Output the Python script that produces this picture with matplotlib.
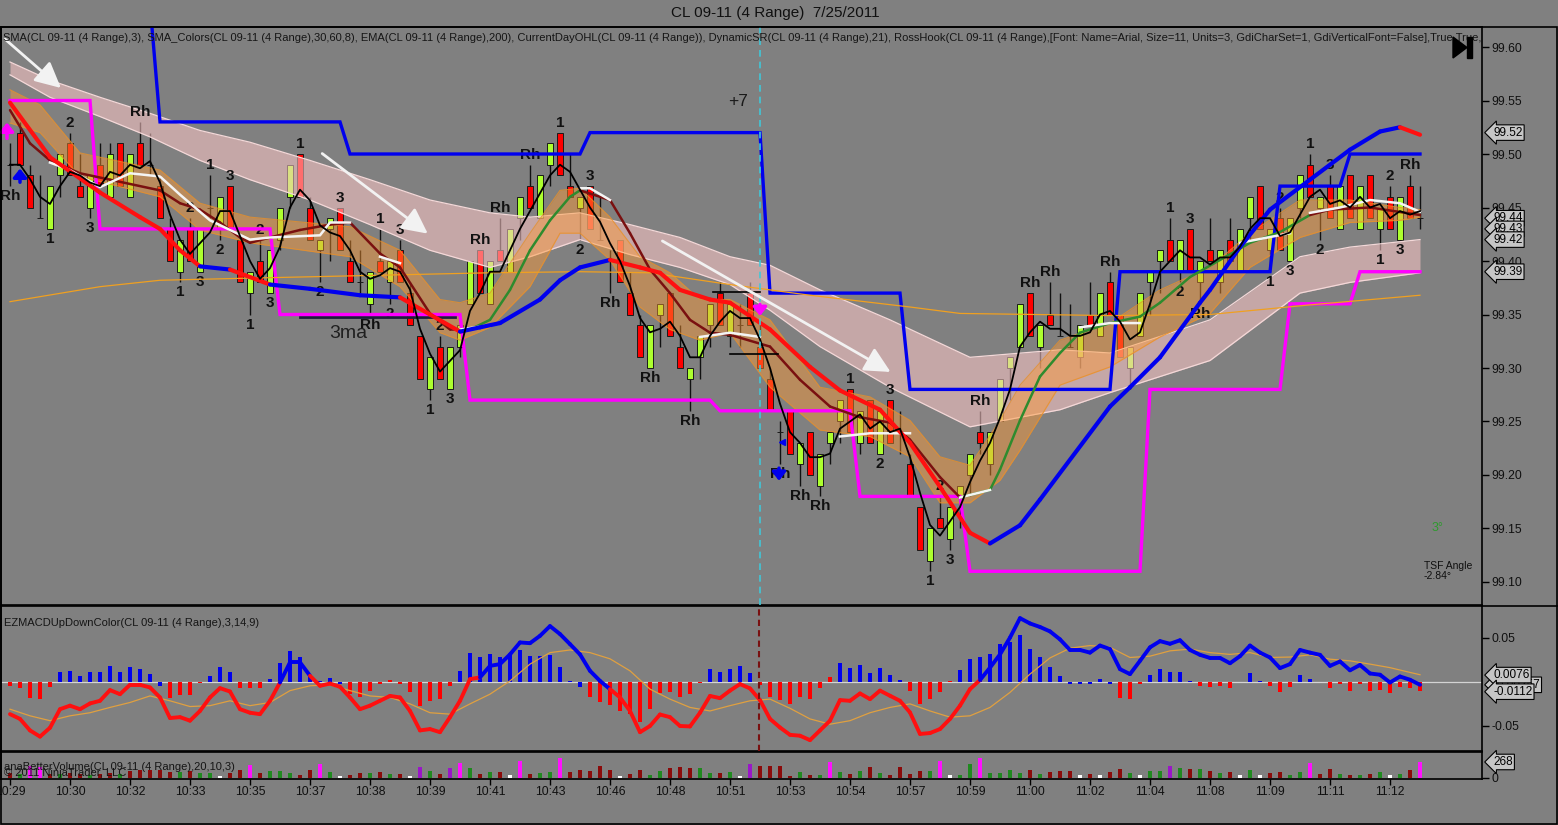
import numpy as np
import pandas as pd
import matplotlib
matplotlib.use('Agg')
import matplotlib.pyplot as plt
from matplotlib.collections import LineCollection
from matplotlib.patches import Polygon, Rectangle
from matplotlib.lines import Line2D

plt.rcParams['font.family'] = ['Liberation Sans', 'DejaVu Sans']

W, H = 1558, 825
BG = '#808080'

# ---------------- price bars (CL 09-11, 4 range) ----------------
opens = [99.49, 99.52, 99.48, 99.44, 99.43, 99.48, 99.51, 99.47, 99.45, 99.49,
         99.46, 99.51, 99.46, 99.51, 99.49, 99.47, 99.43, 99.39, 99.43, 99.39,
         99.45, 99.43, 99.47, 99.42, 99.37, 99.40, 99.37, 99.42, 99.46, 99.50,
         99.45, 99.41, 99.43, 99.45, 99.40, 99.38, 99.36, 99.40, 99.38, 99.41,
         99.37, 99.33, 99.28, 99.32, 99.28, 99.32, 99.36, 99.41, 99.36, 99.41,
         99.39, 99.44, 99.47, 99.44, 99.49, 99.52, 99.47, 99.45, 99.47, 99.42,
         99.40, 99.42, 99.37, 99.34, 99.30, 99.35, 99.37, 99.32, 99.29, 99.31,
         99.34, 99.37, 99.33, 99.34, 99.37, 99.32, 99.29, 99.24, 99.26, 99.21,
         99.24, 99.19, 99.23, 99.25, 99.28, 99.23, 99.27, 99.22, 99.27, 99.24,
         99.21, 99.17, 99.12, 99.16, 99.14, 99.18, 99.20, 99.24, 99.21, 99.25,
         99.30, 99.32, 99.37, 99.32, 99.35, 99.33, 99.32, 99.31, 99.35, 99.33,
         99.38, 99.35, 99.30, 99.33, 99.38, 99.40, 99.42, 99.39, 99.43, 99.38,
         99.41, 99.38, 99.42, 99.39, 99.44, 99.47, 99.41, 99.44, 99.40, 99.45,
         99.49, 99.45, 99.47, 99.43, 99.48, 99.43, 99.48, 99.43, 99.46, 99.42,
         99.47, 99.44]
highs = [99.51, 99.53, 99.49, 99.48, 99.47, 99.50, 99.52, 99.50, 99.48, 99.51,
         99.51, 99.51, 99.50, 99.53, 99.52, 99.48, 99.44, 99.42, 99.44, 99.43,
         99.48, 99.46, 99.47, 99.42, 99.39, 99.42, 99.41, 99.45, 99.49, 99.50,
         99.46, 99.42, 99.44, 99.45, 99.42, 99.41, 99.39, 99.43, 99.40, 99.42,
         99.38, 99.33, 99.31, 99.33, 99.32, 99.35, 99.40, 99.41, 99.40, 99.44,
         99.43, 99.46, 99.49, 99.48, 99.51, 99.52, 99.50, 99.46, 99.47, 99.46,
         99.41, 99.42, 99.39, 99.35, 99.34, 99.36, 99.37, 99.34, 99.30, 99.33,
         99.36, 99.38, 99.36, 99.36, 99.38, 99.34, 99.30, 99.25, 99.26, 99.23,
         99.24, 99.22, 99.24, 99.27, 99.28, 99.26, 99.27, 99.26, 99.27, 99.26,
         99.22, 99.17, 99.15, 99.18, 99.17, 99.19, 99.22, 99.26, 99.24, 99.29,
         99.31, 99.36, 99.37, 99.34, 99.38, 99.37, 99.36, 99.34, 99.38, 99.37,
         99.39, 99.35, 99.32, 99.37, 99.39, 99.41, 99.44, 99.42, 99.43, 99.40,
         99.44, 99.41, 99.44, 99.43, 99.46, 99.47, 99.43, 99.45, 99.44, 99.48,
         99.50, 99.46, 99.48, 99.47, 99.48, 99.47, 99.48, 99.45, 99.47, 99.46,
         99.48, 99.47]
lows = [99.47, 99.49, 99.45, 99.44, 99.43, 99.46, 99.48, 99.46, 99.44, 99.47,
        99.46, 99.47, 99.46, 99.49, 99.48, 99.44, 99.40, 99.38, 99.40, 99.39,
        99.44, 99.42, 99.43, 99.38, 99.35, 99.38, 99.37, 99.41, 99.45, 99.46,
        99.42, 99.38, 99.40, 99.41, 99.38, 99.37, 99.35, 99.39, 99.36, 99.38,
        99.34, 99.29, 99.27, 99.29, 99.28, 99.31, 99.36, 99.37, 99.36, 99.40,
        99.39, 99.42, 99.45, 99.44, 99.47, 99.48, 99.46, 99.42, 99.43, 99.42,
        99.37, 99.38, 99.35, 99.31, 99.30, 99.32, 99.33, 99.30, 99.26, 99.29,
        99.32, 99.34, 99.32, 99.32, 99.34, 99.30, 99.26, 99.21, 99.22, 99.19,
        99.20, 99.18, 99.21, 99.23, 99.24, 99.22, 99.23, 99.22, 99.23, 99.22,
        99.18, 99.13, 99.11, 99.15, 99.13, 99.15, 99.18, 99.22, 99.20, 99.25,
        99.27, 99.32, 99.33, 99.30, 99.34, 99.33, 99.32, 99.30, 99.34, 99.33,
        99.35, 99.31, 99.28, 99.33, 99.35, 99.37, 99.40, 99.38, 99.39, 99.36,
        99.40, 99.37, 99.40, 99.39, 99.42, 99.43, 99.39, 99.41, 99.40, 99.44,
        99.46, 99.42, 99.44, 99.43, 99.44, 99.43, 99.44, 99.41, 99.43, 99.42,
        99.44, 99.43]
closes = [99.49, 99.49, 99.45, 99.44, 99.47, 99.50, 99.48, 99.46, 99.48, 99.47,
          99.50, 99.47, 99.50, 99.49, 99.49, 99.44, 99.40, 99.42, 99.40, 99.43,
          99.45, 99.46, 99.43, 99.38, 99.39, 99.38, 99.41, 99.45, 99.49, 99.46,
          99.42, 99.42, 99.44, 99.41, 99.38, 99.38, 99.39, 99.39, 99.40, 99.38,
          99.34, 99.29, 99.31, 99.29, 99.32, 99.34, 99.40, 99.37, 99.40, 99.40,
          99.43, 99.46, 99.45, 99.48, 99.51, 99.48, 99.46, 99.46, 99.43, 99.42,
          99.40, 99.38, 99.35, 99.31, 99.34, 99.36, 99.33, 99.30, 99.30, 99.33,
          99.36, 99.34, 99.36, 99.34, 99.34, 99.30, 99.26, 99.24, 99.22, 99.23,
          99.20, 99.22, 99.24, 99.27, 99.24, 99.26, 99.23, 99.26, 99.23, 99.24,
          99.18, 99.13, 99.15, 99.15, 99.17, 99.19, 99.22, 99.23, 99.24, 99.29,
          99.31, 99.36, 99.33, 99.34, 99.34, 99.33, 99.32, 99.34, 99.34, 99.37,
          99.35, 99.31, 99.32, 99.37, 99.39, 99.41, 99.40, 99.42, 99.39, 99.40,
          99.40, 99.41, 99.40, 99.43, 99.46, 99.43, 99.43, 99.41, 99.44, 99.48,
          99.46, 99.46, 99.44, 99.47, 99.44, 99.47, 99.44, 99.45, 99.43, 99.46,
          99.44, 99.44]

time_labels = ['10:29', '10:30', '10:32', '10:33', '10:35', '10:37', '10:38', '10:39',
               '10:41', '10:43', '10:46', '10:48', '10:51', '10:53', '10:54', '10:57',
               '10:59', '11:00', '11:02', '11:04', '11:08', '11:09', '11:11', '11:12']

# ---------------- overlay indicators ----------------
# SMA_Colors fast line (thick red / blue)
thick_bars = [0, 4, 9, 13, 15, 17, 19, 22, 24, 26, 30, 35, 39, 42, 45, 47, 49, 53, 55, 57,
              60, 63, 65, 67, 70, 72, 76, 80, 83, 87, 90, 93, 96, 98, 101, 103, 110, 112, 115, 119,
              120, 123, 126, 130, 134, 137, 139, 141]
thick_vals = [99.548, 99.497, 99.464, 99.441, 99.430, 99.410, 99.395, 99.392, 99.385, 99.378,
              99.374, 99.368, 99.366, 99.350, 99.334, 99.338, 99.342, 99.364, 99.382, 99.394,
              99.401, 99.394, 99.389, 99.373, 99.364, 99.361, 99.336, 99.301, 99.279, 99.261,
              99.230, 99.189, 99.146, 99.136, 99.153, 99.177, 99.264, 99.282, 99.310, 99.361,
              99.373, 99.413, 99.448, 99.476, 99.504, 99.521, 99.525, 99.518]
thick_blue = [(19, 22), (26, 39), (45, 60), (98, 139)]

# centre line of the orange band (maroon falling / green rising)
mid_bars = [0, 2, 4, 7, 10, 15, 17, 19, 21, 23, 24, 26, 29, 32, 34, 37, 39, 42, 44, 46,
            48, 50, 52, 54, 56, 57, 60, 62, 64, 66, 68, 70, 72, 76, 79, 82, 85, 88, 90, 93,
            95, 98, 99, 101, 103, 105, 107, 110, 113, 115, 118, 121, 124, 127, 130, 132, 136, 141]
mid_vals = [99.541, 99.510, 99.494, 99.482, 99.476, 99.466, 99.454, 99.448, 99.436, 99.422,
            99.417, 99.422, 99.429, 99.434, 99.436, 99.407, 99.394, 99.351, 99.336, 99.336,
            99.345, 99.373, 99.410, 99.438, 99.460, 99.466, 99.457, 99.426, 99.392, 99.370,
            99.345, 99.333, 99.331, 99.320, 99.289, 99.264, 99.254, 99.249, 99.233, 99.198,
            99.179, 99.186, 99.205, 99.251, 99.292, 99.314, 99.333, 99.342, 99.348, 99.361,
            99.385, 99.401, 99.417, 99.427, 99.443, 99.448, 99.450, 99.443]
mid_green = [(46, 57), (95, 130)]

# white (flat) line pieces, NaN = gap
white_bars = [4, 6, 9, 12, 15, 17, 20, 24, 26, 31, 32, 34, np.nan,
              37, 39, np.nan, 45, 48, np.nan, 57, 58, 60, np.nan, 69, 72, 75, np.nan,
              83, 86, 90, np.nan, 95, 98, np.nan, 107, 110, 113, np.nan, 123, 128, np.nan,
              130, 133, 136, 139, 141]
white_vals = [99.492, 99.485, 99.469, 99.482, 99.479, 99.462, 99.438, 99.420, 99.422, 99.424,
              99.436, 99.436, np.nan, 99.404, 99.398, np.nan, 99.336, 99.340, np.nan,
              99.468, 99.468, 99.457, np.nan, 99.329, 99.333, 99.329, np.nan,
              99.236, 99.239, 99.239, np.nan, 99.179, 99.186, np.nan, 99.338, 99.342, 99.342,
              np.nan, 99.417, 99.426, np.nan, 99.445, 99.450, 99.457, 99.454, 99.446]

# orange envelope
orange_bars = [0, 3, 7, 15, 19, 24, 34, 39, 43, 45, 48, 52, 55, 57, 60, 63, 66, 69, 72, 76,
               81, 86, 90, 93, 96, 99, 101, 105, 110, 115, 120, 124, 129, 134, 139, 141]
orange_top = [99.560, 99.546, 99.501, 99.485, 99.454, 99.441, 99.432, 99.410, 99.364, 99.361,
              99.370, 99.426, 99.466, 99.468, 99.441, 99.404, 99.389, 99.364, 99.364, 99.345,
              99.282, 99.273, 99.251, 99.217, 99.209, 99.251, 99.284, 99.326, 99.342, 99.373,
              99.394, 99.426, 99.457, 99.457, 99.450, 99.448]
orange_bot = [99.529, 99.520, 99.479, 99.460, 99.429, 99.417, 99.404, 99.376, 99.333, 99.326,
              99.338, 99.376, 99.426, 99.426, 99.401, 99.357, 99.336, 99.326, 99.333, 99.282,
              99.242, 99.236, 99.217, 99.174, 99.174, 99.195, 99.223, 99.284, 99.301, 99.329,
              99.351, 99.394, 99.422, 99.436, 99.438, 99.441]

# pink envelope
pink_bars = [0, 4, 9, 14, 19, 24, 30, 36, 42, 48, 52, 57, 62, 67, 72, 76, 81, 88, 96, 105,
             110, 120, 129, 134, 141]
pink_top = [99.586, 99.569, 99.553, 99.538, 99.522, 99.511, 99.494, 99.476, 99.457, 99.445,
            99.441, 99.445, 99.434, 99.422, 99.404, 99.396, 99.373, 99.345, 99.310, 99.317,
            99.314, 99.345, 99.404, 99.413, 99.420]
pink_bot = [99.574, 99.553, 99.535, 99.516, 99.494, 99.476, 99.457, 99.434, 99.410, 99.394,
            99.404, 99.420, 99.406, 99.394, 99.378, 99.354, 99.320, 99.282, 99.245, 99.261,
            99.277, 99.307, 99.370, 99.380, 99.389]

# EMA(200)
ema_bars = [0, 9, 15, 24, 48, 57, 64, 72, 80, 90, 95, 110, 120, 130, 141]
ema_vals = [99.362, 99.376, 99.382, 99.384, 99.389, 99.390, 99.389, 99.378, 99.368, 99.357,
            99.351, 99.349, 99.350, 99.359, 99.368]

# DynamicSR steps: (first bar, level)
res_steps = [(14, 99.64), (15, 99.53), (34, 99.50), (58, 99.52), (76, 99.37), (90, 99.28),
             (111, 99.39), (127, 99.47), (134, 99.50)]
sup_steps = [(0, 99.55), (9, 99.43), (27, 99.35), (46, 99.27), (71, 99.26), (85, 99.18),
             (96, 99.11), (114, 99.28), (128, 99.36), (135, 99.39)]

# RossHook labels: (bar, text, above/below)
hook_labels = [(0, 'Rh', 'b'), (4, '1', 'b'), (6, '2', 'a'), (8, '3', 'b'), (13, 'Rh', 'a'),
               (17, '1', 'b'), (18, '2', 'a'), (19, '3', 'b'), (20, '1', 'a'), (21, '2', 'b'),
               (22, '3', 'a'), (24, '1', 'b'), (25, '2', 'a'), (26, '3', 'b'), (29, '1', 'a'),
               (31, '2', 'b'), (33, '3', 'a'), (36, 'Rh', 'b'), (37, '1', 'a'), (38, '2', 'b'),
               (39, '3', 'a'), (42, '1', 'b'), (43, '2', 'a'), (44, '3', 'b'), (47, 'Rh', 'a'),
               (49, 'Rh', 'a'), (52, 'Rh', 'a'), (55, '1', 'a'), (57, '2', 'b'), (58, '3', 'a'),
               (60, 'Rh', 'b'), (64, 'Rh', 'b'), (68, 'Rh', 'b'), (77, 'Rh', 'b'), (79, 'Rh', 'b'),
               (81, 'Rh', 'b'), (84, '1', 'a'), (87, '2', 'b'), (88, '3', 'a'), (92, '1', 'b'),
               (93, '2', 'a'), (94, '3', 'b'), (97, 'Rh', 'a'), (102, 'Rh', 'a'), (104, 'Rh', 'a'),
               (110, 'Rh', 'a'), (116, '1', 'a'), (117, '2', 'b'), (118, '3', 'a'), (119, 'Rh', 'b'),
               (126, '1', 'b'), (127, '2', 'a'), (128, '3', 'b'), (130, '1', 'a'), (131, '2', 'b'),
               (132, '3', 'a'), (137, '1', 'b'), (138, '2', 'a'), (139, '3', 'b'), (140, 'Rh', 'a')]

# ---------------- EZMACD ----------------
macd_hist = [-0.0045, -0.0075, -0.018, -0.019, -0.0057, 0.0113, 0.0124, 0.0068, 0.0113, 0.0106,
             0.018, 0.0113, 0.017, 0.0143, 0.0087, -0.0045, -0.0185, -0.0147, -0.0147, -0.0015,
             0.0068, 0.017, 0.0106, -0.0075, -0.0075, -0.0075, 0.003, 0.0207, 0.035, 0.0275,
             0.008, 0.001, 0.004, -0.0026, -0.014, -0.0177, -0.010, -0.0026, 0.002, -0.002,
             -0.012, -0.027, -0.0215, -0.019, -0.0045, 0.0124, 0.033, 0.0275, 0.031, 0.0275,
             0.031, 0.036, 0.0287, 0.0287, 0.0305, 0.017, 0.0005, -0.0057, -0.0177, -0.0234,
             -0.026, -0.0328, -0.0366, -0.045, -0.031, -0.0132, -0.012, -0.0177, -0.014, -0.001,
             0.015, 0.0113, 0.015, 0.018, 0.0094, -0.004, -0.0177, -0.0207, -0.025, -0.0177,
             -0.019, -0.0075, 0.0057, 0.0207, 0.0155, 0.019, 0.0098, 0.0155, 0.008, 0.0023,
             -0.010, -0.025, -0.019, -0.012, 0.0008, 0.0136, 0.0256, 0.028, 0.031, 0.0426,
             0.045, 0.053, 0.037, 0.0275, 0.017, 0.0068, -0.0026, -0.002, -0.0026, 0.003,
             -0.002, -0.018, -0.019, -0.0026, 0.008, 0.0147, 0.0106, 0.0106, 0.0005, -0.0045,
             -0.0064, -0.0045, -0.0075, -0.0005, 0.0094, 0.001, -0.0045, -0.012, -0.0057, 0.008,
             0.003, 0.0, -0.0075, -0.002, -0.010, -0.0026, -0.010, -0.0094, -0.013, -0.0057,
             -0.007, -0.010]
hist_colors = ('rrrrr' 'bbbbbbbbbbb' 'rrrr' 'bbb' 'rrr' 'bbbbbbbb' 'rrrrrrrrrrr'
               'bbbbbbbbbbbbb' 'rrrrrrrrrrrr' 'bbbbb' 'rrrrrrrr' 'bbbbbbb' 'rrrrr'
               'bbbbbbbbbbbbbbbb' 'rrr' 'bbbbb' 'rrrrr' 'bb' 'rrr' 'bbb' 'rrrrrrrrrr')
macd_line = [-0.0366, -0.042, -0.055, -0.062, -0.052, -0.031, -0.027, -0.031, -0.0245, -0.0215,
             -0.0094, -0.014, -0.0034, -0.0034, -0.0064, -0.0177, -0.041, -0.040, -0.044, -0.033,
             -0.0177, -0.0072, -0.011, -0.031, -0.035, -0.0366, -0.0215, -0.0008, 0.022, 0.022,
             0.0068, -0.0045, -0.002, -0.0057, -0.0177, -0.031, -0.027, -0.0215, -0.016, -0.0177,
             -0.033, -0.055, -0.0535, -0.057, -0.040, -0.0215, 0.003, 0.005, 0.018, 0.020,
             0.031, 0.0445, 0.0437, 0.052, 0.063, 0.054, 0.0426, 0.031, 0.0124, 0.001,
             -0.0083, -0.0177, -0.033, -0.057, -0.050, -0.037, -0.040, -0.050, -0.0505, -0.035,
             -0.016, -0.0185, -0.010, -0.0026, -0.0075, -0.0207, -0.042, -0.0517, -0.060, -0.061,
             -0.066, -0.055, -0.044, -0.0207, -0.0215, -0.0132, -0.0196, -0.010, -0.0158, -0.0215,
             -0.0347, -0.059, -0.058, -0.0535, -0.042, -0.027, -0.0083, 0.002, 0.016, 0.031,
             0.050, 0.072, 0.066, 0.062, 0.057, 0.048, 0.036, 0.036, 0.033, 0.041,
             0.037, 0.0143, 0.0087, 0.0237, 0.039, 0.046, 0.043, 0.047, 0.036, 0.0305,
             0.027, 0.027, 0.021, 0.029, 0.041, 0.033, 0.0275, 0.0155, 0.020, 0.036,
             0.033, 0.0305, 0.018, 0.023, 0.013, 0.019, 0.0094, 0.008, -0.0008, 0.006,
             0.0023, -0.0034]
macd_blue = [(27, 30), (47, 60), (97, 141)]
signal_bars = list(range(0, 141, 2)) + [141]
signal_vals = [-0.031, -0.0385, -0.044, -0.0385, -0.035, -0.029, -0.0234, -0.016, -0.0215, -0.028,
               -0.027, -0.0215, -0.027, -0.0234, -0.010, -0.0045, -0.0034, -0.010, -0.016, -0.0177,
               -0.025, -0.035, -0.0366, -0.025, -0.014, 0.001, 0.020, 0.033, 0.036, 0.033,
               0.026, 0.0124, -0.0083, -0.0196, -0.029, -0.033, -0.027, -0.0215, -0.0196, -0.030,
               -0.042, -0.048, -0.044, -0.035, -0.029, -0.025, -0.033, -0.040, -0.0385, -0.029,
               -0.012, 0.0087, 0.027, 0.038, 0.041, 0.039, 0.0275, 0.029, 0.035, 0.037,
               0.033, 0.031, 0.033, 0.0275, 0.028, 0.0305, 0.0256, 0.0237, 0.020, 0.016,
               0.0106, 0.008]

# ---------------- anaBetterVolume ----------------
volume = [80, 60, 200, 180, 60, 70, 90, 60, 50, 70,
          80, 60, 110, 128, 128, 128, 100, 100, 112, 84,
          84, 33, 89, 128, 223, 84, 112, 112, 84, 45,
          140, 240, 100, 33, 45, 84, 84, 95, 61, 73,
          33, 184, 112, 61, 173, 251, 173, 61, 95, 95,
          45, 290, 67, 78, 95, 330, 95, 140, 112, 195,
          140, 39, 67, 140, 50, 112, 162, 179, 162, 162,
          78, 84, 95, 39, 234, 195, 206, 206, 39, 95,
          56, 56, 262, 95, 67, 112, 184, 84, 56, 179,
          73, 112, 112, 279, 45, 56, 234, 335, 84, 84,
          140, 84, 140, 67, 95, 112, 112, 45, 67, 50,
          100, 145, 84, 50, 112, 112, 200, 167, 145, 145,
          112, 84, 95, 50, 128, 50, 84, 95, 50, 95,
          257, 61, 156, 61, 45, 45, 61, 95, 50, 61,
          128, 268]
vol_colors = ('rgmmrgrrgr' 'rgrrrrrgrg' 'gwrrmrgggr' 'rmgwrrgrgr' 'wpgrpmgrgr'
              'wmrggmrrrr' 'rwrrggrrrg' 'grgwprrrrg' 'rgmgrgrgrr' 'rrgmwggmgg'
              'ggrgrrrwrw' 'rrgwggpgrg' 'rgrwgwrrgg' 'mrrgrgrgwg' 'rm')

VOL_MAP = {'r': '#8b0a0a', 'g': '#1f8a1f', 'w': '#ffffff', 'm': '#ff10ff', 'p': '#9a16c8'}


def px(x, y):
    return x / W, 1 - y / H


def in_ranges(a, b, ranges):
    return any(lo <= a and b <= hi for lo, hi in ranges)


def colored_line(ax, xs, ys, colors, lw, z):
    pts = np.column_stack([xs, ys])
    segs = np.stack([pts[:-1], pts[1:]], axis=1)
    lc = LineCollection(segs, colors=colors, linewidths=lw, zorder=z,
                        capstyle='round', joinstyle='round')
    ax.add_collection(lc)


def expand_steps(steps, n):
    lv = np.full(n, np.nan)
    for b, v in steps:
        lv[b:] = v
    return lv


def value_box(ax, v, txt, color='black'):
    ax.annotate(txt, xy=(1, v), xycoords=ax.get_yaxis_transform(), xytext=(11, 0),
                textcoords='offset pixels', ha='left', va='center', fontsize=8.5, color=color,
                bbox=dict(boxstyle='larrow,pad=0.15', fc='#c6c6c6', ec='black', lw=0.8),
                annotation_clip=False, zorder=10)


n = len(closes)
x = np.arange(n)
o = np.array(opens); c = np.array(closes)
sma3 = pd.Series(closes).rolling(3, min_periods=1).mean().values

fig = plt.figure(figsize=(W / 100, H / 100), dpi=100, facecolor=BG)
L, R = 1 / W, 1482 / W
ax = fig.add_axes([L, 1 - 605 / H, R - L, (605 - 27) / H])
axm = fig.add_axes([L, 1 - 751 / H, R - L, (751 - 606) / H])
axv = fig.add_axes([L, 1 - 779 / H, R - L, (779 - 752) / H])

for a in (ax, axm, axv):
    a.set_facecolor(BG)
    a.set_xlim(-0.9, 147.2)
    for s in a.spines.values():
        s.set_color('black')
        s.set_linewidth(1.2)
    a.yaxis.tick_right()
    a.tick_params(axis='y', length=5, width=1, colors='black', labelsize=8.8, pad=1.5,
                  labelcolor='#101010')

ax.set_ylim(99.0785, 99.6187)
axm.set_ylim(-0.0783, 0.08575)
axv.set_ylim(-17, 435)

# ---------- price panel ----------
# candles
up = c > o
dn = c < o
body_col = np.where(up, '#adff2f', np.where(dn, '#ff0000', 'black'))
ax.vlines(x, lows, highs, color='#111111', lw=1, zorder=2)
ax.bar(x, c - o, bottom=o, width=0.68, color=body_col, edgecolor='#1a1a1a',
       linewidth=0.7, zorder=2.2)

# envelopes (drawn translucent over the bars)
ax.fill_between(pink_bars, pink_bot, pink_top, color='#ffc8c8', alpha=0.55, lw=0, zorder=3)
ax.plot(pink_bars, pink_top, color='#f4d8d8', lw=0.9, zorder=3.05)
ax.plot(pink_bars, pink_bot, color='#f4d8d8', lw=0.9, zorder=3.05)
ax.fill_between(orange_bars, orange_bot, orange_top, color='#ff9933', alpha=0.45, lw=0, zorder=3.1)
ax.plot(orange_bars, orange_top, color='#e8902a', lw=0.8, alpha=0.8, zorder=3.15)
ax.plot(orange_bars, orange_bot, color='#e8902a', lw=0.8, alpha=0.8, zorder=3.15)

# labels
for b, t, pos in hook_labels:
    if pos == 'a':
        ax.annotate(t, (b, highs[b]), xytext=(0, 10), textcoords='offset pixels', ha='center',
                    va='center', fontsize=11, fontweight='bold', color='#111111', zorder=3.4)
    else:
        ax.annotate(t, (b, lows[b]), xytext=(0, -10), textcoords='offset pixels', ha='center',
                    va='center', fontsize=11, fontweight='bold', color='#111111', zorder=3.4)

# support / resistance
ax.plot(x, expand_steps(res_steps, n), color='#0000ee', lw=2.4, zorder=3.6, solid_joinstyle='miter')
ax.plot(x, expand_steps(sup_steps, n), color='#ff00ff', lw=2.4, zorder=3.6, solid_joinstyle='miter')

# EMA 200
ax.plot(ema_bars, ema_vals, color='#f0a020', lw=0.9, zorder=3.7)

# mid line, white line, thick line, SMA(3)
mid_cols = ['#2e8b2e' if in_ranges(mid_bars[k], mid_bars[k + 1], mid_green) else '#7a1010'
            for k in range(len(mid_bars) - 1)]
colored_line(ax, mid_bars, mid_vals, mid_cols, 1.8, 4)
ax.plot(white_bars, white_vals, color='#f4f4f4', lw=1.8, zorder=4.1)
thick_cols = ['#0000ee' if in_ranges(thick_bars[k], thick_bars[k + 1], thick_blue) else '#ff1010'
              for k in range(len(thick_bars) - 1)]
colored_line(ax, thick_bars, thick_vals, thick_cols, 3.0, 4.2)
ax.plot(x, sma3, color='black', lw=1.3, zorder=4.5)

# drawing objects
ax.axvline(75, color='#40c8d8', lw=1.2, ls=(0, (4, 3)), zorder=4.6)
ax.plot([29, 44.5], [99.348, 99.348], color='#1c1c3c', lw=2, zorder=3.5)
ax.plot([70.3, 75], [99.371, 99.371], color='black', lw=1.2, zorder=4.6)
ax.plot([72, 76.8], [99.313, 99.313], color='black', lw=1.2, zorder=4.6)
for (x0, y0), (x1, y1) in [((-0.7, 99.609), (5.3, 99.560)),
                           ((31, 99.502), (42, 99.424)),
                           ((65, 99.420), (88.3, 99.295))]:
    ax.annotate('', xy=(x1, y1), xytext=(x0, y0),
                arrowprops=dict(arrowstyle='-|>,head_length=1.3,head_width=0.65',
                                color='#f2f2f2', lw=2, mutation_scale=12), zorder=6)
for (bx, y0, y1, col) in [(-0.3, 99.512, 99.532, '#ff00ff'), (1.0, 99.471, 99.489, '#0000ee'),
                          (75, 99.362, 99.346, '#ff00ff'), (76.9, 99.209, 99.192, '#0000ee')]:
    ax.annotate('', xy=(bx, y1), xytext=(bx, y0),
                arrowprops=dict(arrowstyle='-|>,head_length=0.5,head_width=0.4',
                                color=col, lw=2.5, mutation_scale=10), zorder=6)
ax.plot([77.2], [99.231], marker='<', ms=5, color='#0000ee', zorder=6)

ax.text(33.8, 99.332, '3ma', fontsize=14, color='#202020', ha='center', va='center', zorder=6)
ax.text(72.8, 99.549, '+7', fontsize=12.5, color='#1a1a1a', ha='center', va='center', zorder=6)
ax.annotate('SMA(CL 09-11 (4 Range),3), SMA_Colors(CL 09-11 (4 Range),30,60,8), '
            'EMA(CL 09-11 (4 Range),200), CurrentDayOHL(CL 09-11 (4 Range)), '
            'DynamicSR(CL 09-11 (4 Range),21), RossHook(CL 09-11 (4 Range),[Font: Name=Arial, '
            'Size=11, Units=3, GdiCharSet=1, GdiVerticalFont=False],True,True,A',
            xy=(0, 1), xycoords='axes fraction', xytext=(2, -11), textcoords='offset pixels',
            ha='left', va='center', fontsize=8, color='#151515', annotation_clip=True,
            clip_on=True, zorder=7)
# angle read-outs at the lower right of the price panel
ax.annotate('3°', xy=(1, 0), xycoords='axes fraction', xytext=(-50, 77),
            textcoords='offset pixels', ha='left', va='center', fontsize=9, color='#2e9a2e')
ax.annotate('TSF Angle\n-2.84°', xy=(1, 0), xycoords='axes fraction', xytext=(-58, 34),
            textcoords='offset pixels', ha='left', va='center', fontsize=7.5,
            color='#101010', linespacing=1.1)

ax.set_yticks([99.10, 99.15, 99.20, 99.25, 99.30, 99.35, 99.40, 99.45, 99.50, 99.55, 99.60])
ax.set_yticklabels(['99.10', '99.15', '99.20', '99.25', '99.30', '99.35', '99.40', '99.45',
                    '99.50', '99.55', '99.60'])
ax.set_xticks([])
value_box(ax, 99.52, '99.52')
value_box(ax, 99.44, '99.44')
value_box(ax, 99.43, '99.43')
value_box(ax, 99.42, '99.42')
value_box(ax, 99.39, '99.39')

# ---------- MACD panel ----------
axm.axhline(0, color='#d4d4d4', lw=0.9, zorder=1)
axm.bar(x, macd_hist, width=0.32, color=['#0000ee' if k == 'b' else '#ff0000' for k in hist_colors],
        zorder=2)
axm.plot(signal_bars, signal_vals, color='#e0a040', lw=0.9, zorder=3)
macd_cols = ['#0000ee' if in_ranges(k, k + 1, macd_blue) else '#ff1010' for k in range(n - 1)]
colored_line(axm, x, macd_line, macd_cols, 2.8, 4)
axm.axvline(74.9, color='#7a1010', lw=1.5, ls=(0, (3, 2)), zorder=5)
axm.annotate('EZMACDUpDownColor(CL 09-11 (4 Range),3,14,9)', xy=(0, 1), xycoords='axes fraction',
             xytext=(3, -17), textcoords='offset pixels', ha='left', va='center', fontsize=8,
             color='#151515')
axm.set_yticks([-0.05, 0.05])
axm.set_yticklabels(['-0.05', '0.05'])
axm.set_xticks([])
value_box(axm, -0.0034, '-0.00257')
value_box(axm, 0.0076, '0.0076')
value_box(axm, -0.0112, '-0.0112')

# ---------- volume panel ----------
axv.bar(x, volume, width=0.32, color=[VOL_MAP[k] for k in vol_colors], zorder=2)
axv.annotate('anaBetterVolume(CL 09-11 (4 Range),20,10,3)', xy=(0, 1), xycoords='axes fraction',
             xytext=(3, -15), textcoords='offset pixels', ha='left', va='center', fontsize=8,
             color='#151515', zorder=5)
axv.annotate('© 2011 NinjaTrader, LLC', xy=(0, 1), xycoords='axes fraction',
             xytext=(3, -21), textcoords='offset pixels', ha='left', va='center', fontsize=8,
             color='#151515', zorder=5)
axv.set_yticks([0])
axv.set_yticklabels(['0'])
value_box(axv, 268, '268')
axv.set_xticks(np.arange(0, n, 6))
axv.set_xticklabels(time_labels)
axv.tick_params(axis='x', length=4, width=1, colors='black', labelsize=8.8, pad=1,
                labelcolor='#101010')

# ---------- frame, title, icon ----------
fig.add_artist(Rectangle(px(0.5, 824), (1556.5) / W, (824 - 27) / H, transform=fig.transFigure,
                         fill=False, ec='black', lw=1.2))
fig.add_artist(Line2D([1482 / W, 1557 / W], [1 - 605.5 / H, 1 - 605.5 / H], color='black', lw=1.2))
fig.text(775 / W, 1 - 13 / H, 'CL 09-11 (4 Range)  7/25/2011', ha='center', va='center',
         fontsize=11, color='#101010')
fig.add_artist(Polygon([px(1453, 37), px(1453, 58), px(1467, 47.5)], closed=True,
                       transform=fig.transFigure, color='black'))
fig.add_artist(Rectangle(px(1467, 58), 5 / W, 21 / H, transform=fig.transFigure, color='black'))

fig.savefig('out.png', dpi=100, facecolor=BG)
